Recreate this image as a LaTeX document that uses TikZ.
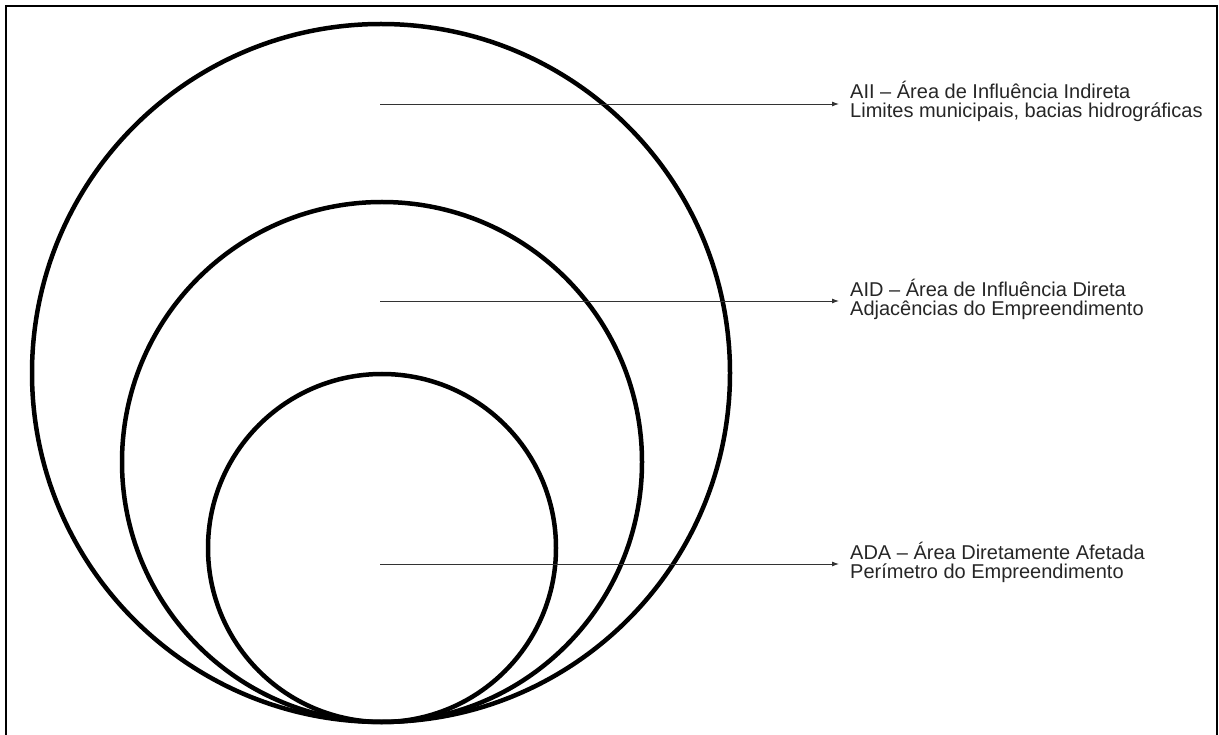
\documentclass[tikz,border=0pt]{standalone}
\usepackage{fontspec}
\setmainfont{Liberation Sans}
\usetikzlibrary{arrows.meta}
\begin{document}
\begin{tikzpicture}[x=1pt,y=-1pt,
  ring/.style={line width=4.5pt,draw=black},
  pointer/.style={line width=0.9pt,draw=black!80,-{Latex[length=7pt,width=5pt]}},
  label/.style={anchor=west,align=left,inner sep=0pt,text=black!85,font=\fontsize{20}{19}\selectfont},
  frameline/.style={line width=2pt,draw=black}]
\useasboundingbox (0,0) rectangle (1219,735);
\draw[frameline] (6,745) -- (6,6) -- (1217,6) -- (1217,745);
% circles
\draw[ring] (381,373) circle (349);
\draw[ring] (382,462) circle (260);
\draw[ring] (382,548) circle (174);
% labels
\node[label] (t1) at (850,101) {AII – Área de Influência Indireta\\Limites municipais, bacias hidrográficas};
\node[label] (t2) at (850,299) {AID – Área de Influência Direta\\Adjacências do Empreendimento};
\node[label] (t3) at (850,562) {ADA – Área Diretamente Afetada\\Perímetro do Empreendimento};
% arrows
\coordinate (a1) at (380,104); \coordinate (e1) at (839,104);
\coordinate (a2) at (380,301); \coordinate (e2) at (839,301);
\coordinate (a3) at (380,564); \coordinate (e3) at (839,564);
\draw[pointer] (a1) -- (e1);
\draw[pointer] (a2) -- (e2);
\draw[pointer] (a3) -- (e3);
\end{tikzpicture}
\end{document}
